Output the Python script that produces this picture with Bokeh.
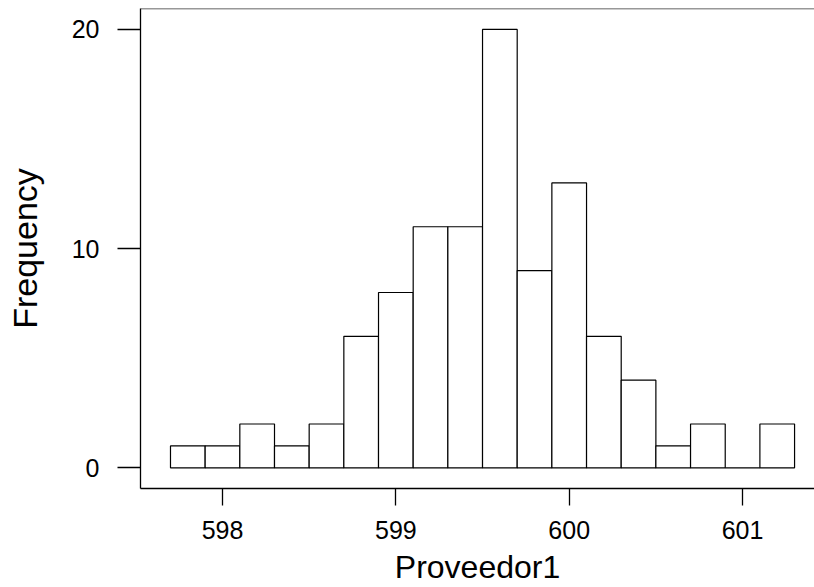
from bokeh.plotting import figure
from bokeh.models import FixedTicker, Range1d, Span, ColumnDataSource
from bokeh.embed import file_html
from bokeh.resources import INLINE

# Data
bin_centers = [597.8, 598.0, 598.2, 598.4, 598.6, 598.8, 599.0, 599.2, 599.4,
               599.6, 599.8, 600.0, 600.2, 600.4, 600.6, 600.8, 601.0, 601.2]
counts = [1, 1, 2, 1, 2, 6, 8, 11, 11, 20, 9, 13, 6, 4, 1, 2, 0, 2]
bin_width = 0.2
x_ticks = [598, 599, 600, 601]
y_ticks = [0, 10, 20]

src = ColumnDataSource(dict(
    left=[c - bin_width / 2 for c in bin_centers],
    right=[c + bin_width / 2 for c in bin_centers],
    top=counts,
    bottom=[0] * len(counts),
))

FONT = "Liberation Sans"
Y_TOP = 20.956

p = figure(width=814, height=587, output_backend="svg", toolbar_location=None,
           x_range=Range1d(597.527, 601.415), y_range=Range1d(-0.942, Y_TOP),
           min_border_left=140, min_border_top=8, min_border_right=0,
           min_border_bottom=98)
p.outline_line_color = None
p.background_fill_color = "white"
p.border_fill_color = "white"
p.xgrid.visible = False
p.ygrid.visible = False

p.quad(left="left", right="right", top="top", bottom="bottom", source=src,
       fill_color="white", line_color="black", line_width=1.2)

# top frame line
p.add_layout(Span(location=Y_TOP, dimension="width", line_color="#333333", line_width=1.3))

for ax in (p.xaxis[0], p.yaxis[0]):
    ax.axis_line_color = "black"
    ax.axis_line_width = 1.3
    ax.major_tick_line_color = "black"
    ax.major_tick_line_width = 1.3
    ax.major_tick_in = 0
    ax.minor_tick_line_color = None
    ax.major_label_text_font = FONT
    ax.major_label_text_font_size = "25px"
    ax.major_label_text_color = "black"
    ax.axis_label_text_font = FONT
    ax.axis_label_text_font_style = "normal"
    ax.axis_label_text_color = "black"
    ax.axis_label_text_line_height = 1.0

p.xaxis.axis_label_text_font_size = "32px"
p.yaxis.axis_label_text_font_size = "34px"
p.xaxis.ticker = FixedTicker(ticks=x_ticks)
p.yaxis.ticker = FixedTicker(ticks=y_ticks)
p.xaxis.axis_label = "Proveedor1"
p.yaxis.axis_label = "Frequency"
p.xaxis.major_tick_out = 17
p.yaxis.major_tick_out = 23
p.xaxis.major_label_standoff = 15
p.yaxis.major_label_standoff = 18
p.xaxis.axis_label_standoff = 7
p.yaxis.axis_label_standoff = 25

open("out.html", "w").write(file_html(p, INLINE))
